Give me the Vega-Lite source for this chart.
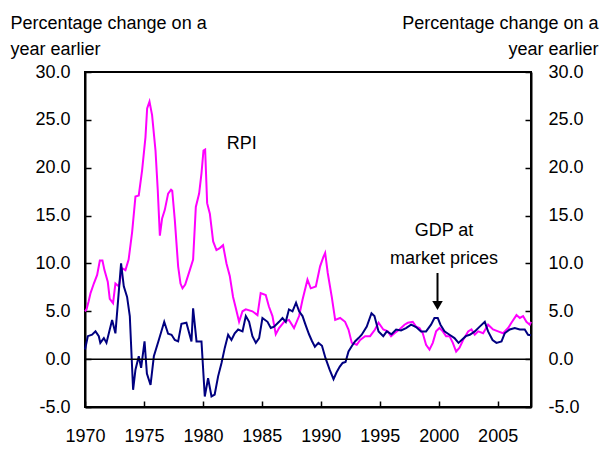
{
  "$schema": "https://vega.github.io/schema/vega-lite/v6.json",
  "width": 446,
  "height": 335,
  "autosize": {"type": "none"},
  "padding": {"left": 85, "top": 72, "right": 72, "bottom": 43},
  "background": "white",
  "config": {
    "font": "Liberation Sans",
    "view": {"stroke": "black", "strokeWidth": 2},
    "axis": {"grid": false, "domainColor": "black", "domainWidth": 2, "tickColor": "black", "tickWidth": 1.5, "labelColor": "black", "labelFontSize": 18, "titleFontSize": 18, "titleFontWeight": "normal", "titleColor": "black", "labelFont": "Liberation Sans", "titleFont": "Liberation Sans"}
  },
  "datasets": {
    "series": [
      {"series": "RPI", "year": 1970.0, "value": 5.0},
      {"series": "RPI", "year": 1970.13, "value": 5.2},
      {"series": "RPI", "year": 1970.3, "value": 6.0},
      {"series": "RPI", "year": 1970.47, "value": 6.9},
      {"series": "RPI", "year": 1970.75, "value": 7.9},
      {"series": "RPI", "year": 1971.03, "value": 8.8},
      {"series": "RPI", "year": 1971.26, "value": 10.3},
      {"series": "RPI", "year": 1971.48, "value": 10.3},
      {"series": "RPI", "year": 1971.65, "value": 9.3},
      {"series": "RPI", "year": 1971.93, "value": 8.1},
      {"series": "RPI", "year": 1972.1, "value": 6.3},
      {"series": "RPI", "year": 1972.38, "value": 5.85},
      {"series": "RPI", "year": 1972.58, "value": 7.9},
      {"series": "RPI", "year": 1972.87, "value": 7.6},
      {"series": "RPI", "year": 1973.15, "value": 9.5},
      {"series": "RPI", "year": 1973.43, "value": 9.3},
      {"series": "RPI", "year": 1973.7, "value": 10.4},
      {"series": "RPI", "year": 1974.0, "value": 13.3},
      {"series": "RPI", "year": 1974.28, "value": 17.0},
      {"series": "RPI", "year": 1974.56, "value": 17.1},
      {"series": "RPI", "year": 1974.84, "value": 19.7},
      {"series": "RPI", "year": 1975.13, "value": 23.2},
      {"series": "RPI", "year": 1975.27, "value": 26.2},
      {"series": "RPI", "year": 1975.47, "value": 26.9},
      {"series": "RPI", "year": 1975.69, "value": 25.5},
      {"series": "RPI", "year": 1975.98, "value": 21.8},
      {"series": "RPI", "year": 1976.17, "value": 17.7},
      {"series": "RPI", "year": 1976.35, "value": 12.9},
      {"series": "RPI", "year": 1976.54, "value": 14.7},
      {"series": "RPI", "year": 1976.77, "value": 15.6},
      {"series": "RPI", "year": 1977.05, "value": 17.3},
      {"series": "RPI", "year": 1977.3, "value": 17.7},
      {"series": "RPI", "year": 1977.4, "value": 17.6},
      {"series": "RPI", "year": 1977.62, "value": 14.5},
      {"series": "RPI", "year": 1977.9, "value": 9.7},
      {"series": "RPI", "year": 1978.1, "value": 7.9},
      {"series": "RPI", "year": 1978.27, "value": 7.4},
      {"series": "RPI", "year": 1978.5, "value": 7.8},
      {"series": "RPI", "year": 1978.89, "value": 9.3},
      {"series": "RPI", "year": 1979.17, "value": 10.4},
      {"series": "RPI", "year": 1979.4, "value": 15.9},
      {"series": "RPI", "year": 1979.68, "value": 17.3},
      {"series": "RPI", "year": 1979.88, "value": 19.4},
      {"series": "RPI", "year": 1980.05, "value": 21.8},
      {"series": "RPI", "year": 1980.19, "value": 21.9},
      {"series": "RPI", "year": 1980.36, "value": 16.3},
      {"series": "RPI", "year": 1980.59, "value": 15.2},
      {"series": "RPI", "year": 1980.87, "value": 12.3},
      {"series": "RPI", "year": 1981.15, "value": 11.4},
      {"series": "RPI", "year": 1981.43, "value": 11.6},
      {"series": "RPI", "year": 1981.71, "value": 11.9},
      {"series": "RPI", "year": 1982.0, "value": 10.0},
      {"series": "RPI", "year": 1982.28, "value": 8.7},
      {"series": "RPI", "year": 1982.56, "value": 6.5},
      {"series": "RPI", "year": 1982.8, "value": 5.3},
      {"series": "RPI", "year": 1983.07, "value": 3.9},
      {"series": "RPI", "year": 1983.36, "value": 5.0},
      {"series": "RPI", "year": 1983.64, "value": 5.2},
      {"series": "RPI", "year": 1984.2, "value": 5.0},
      {"series": "RPI", "year": 1984.63, "value": 4.6},
      {"series": "RPI", "year": 1984.9, "value": 6.9},
      {"series": "RPI", "year": 1985.33, "value": 6.7},
      {"series": "RPI", "year": 1985.6, "value": 5.5},
      {"series": "RPI", "year": 1985.9, "value": 4.5},
      {"series": "RPI", "year": 1986.18, "value": 2.6},
      {"series": "RPI", "year": 1986.46, "value": 3.25},
      {"series": "RPI", "year": 1986.89, "value": 3.9},
      {"series": "RPI", "year": 1987.3, "value": 4.1},
      {"series": "RPI", "year": 1987.73, "value": 3.25},
      {"series": "RPI", "year": 1988.16, "value": 4.5},
      {"series": "RPI", "year": 1988.45, "value": 6.2},
      {"series": "RPI", "year": 1988.87, "value": 8.3},
      {"series": "RPI", "year": 1989.15, "value": 7.4},
      {"series": "RPI", "year": 1989.58, "value": 7.6},
      {"series": "RPI", "year": 1989.94, "value": 9.7},
      {"series": "RPI", "year": 1990.23, "value": 10.7},
      {"series": "RPI", "year": 1990.37, "value": 11.1},
      {"series": "RPI", "year": 1990.59, "value": 9.0},
      {"series": "RPI", "year": 1990.93, "value": 6.5},
      {"series": "RPI", "year": 1991.22, "value": 4.1},
      {"series": "RPI", "year": 1991.64, "value": 4.3},
      {"series": "RPI", "year": 1992.06, "value": 3.9},
      {"series": "RPI", "year": 1992.35, "value": 3.1},
      {"series": "RPI", "year": 1992.63, "value": 1.7},
      {"series": "RPI", "year": 1993.05, "value": 1.5},
      {"series": "RPI", "year": 1993.34, "value": 2.0},
      {"series": "RPI", "year": 1993.76, "value": 2.4},
      {"series": "RPI", "year": 1994.18, "value": 2.4},
      {"series": "RPI", "year": 1994.6, "value": 3.1},
      {"series": "RPI", "year": 1994.9, "value": 3.8},
      {"series": "RPI", "year": 1995.3, "value": 3.1},
      {"series": "RPI", "year": 1995.68, "value": 2.9},
      {"series": "RPI", "year": 1995.96, "value": 2.4},
      {"series": "RPI", "year": 1996.25, "value": 2.7},
      {"series": "RPI", "year": 1996.67, "value": 3.1},
      {"series": "RPI", "year": 1997.1, "value": 3.6},
      {"series": "RPI", "year": 1997.38, "value": 3.8},
      {"series": "RPI", "year": 1997.8, "value": 3.9},
      {"series": "RPI", "year": 1998.08, "value": 3.4},
      {"series": "RPI", "year": 1998.37, "value": 3.25},
      {"series": "RPI", "year": 1998.65, "value": 2.7},
      {"series": "RPI", "year": 1998.93, "value": 1.5},
      {"series": "RPI", "year": 1999.22, "value": 1.0},
      {"series": "RPI", "year": 1999.5, "value": 1.7},
      {"series": "RPI", "year": 1999.78, "value": 2.9},
      {"series": "RPI", "year": 2000.07, "value": 3.25},
      {"series": "RPI", "year": 2000.35, "value": 2.9},
      {"series": "RPI", "year": 2000.63, "value": 2.4},
      {"series": "RPI", "year": 2000.92, "value": 2.4},
      {"series": "RPI", "year": 2001.2, "value": 1.7},
      {"series": "RPI", "year": 2001.48, "value": 0.8},
      {"series": "RPI", "year": 2001.77, "value": 1.2},
      {"series": "RPI", "year": 2002.07, "value": 2.0},
      {"series": "RPI", "year": 2002.5, "value": 2.9},
      {"series": "RPI", "year": 2002.78, "value": 3.1},
      {"series": "RPI", "year": 2003.06, "value": 2.55},
      {"series": "RPI", "year": 2003.35, "value": 2.9},
      {"series": "RPI", "year": 2003.77, "value": 2.7},
      {"series": "RPI", "year": 2004.19, "value": 3.6},
      {"series": "RPI", "year": 2004.61, "value": 3.1},
      {"series": "RPI", "year": 2005.04, "value": 2.9},
      {"series": "RPI", "year": 2005.46, "value": 2.7},
      {"series": "RPI", "year": 2005.89, "value": 3.25},
      {"series": "RPI", "year": 2006.17, "value": 3.8},
      {"series": "RPI", "year": 2006.6, "value": 4.6},
      {"series": "RPI", "year": 2006.88, "value": 4.3},
      {"series": "RPI", "year": 2007.16, "value": 4.5},
      {"series": "RPI", "year": 2007.44, "value": 3.9},
      {"series": "RPI", "year": 2007.72, "value": 3.6},
      {"series": "RPI", "year": 2007.83, "value": 3.9},
      {"series": "GDP", "year": 1970.0, "value": 1.0},
      {"series": "GDP", "year": 1970.24, "value": 2.4},
      {"series": "GDP", "year": 1970.6, "value": 2.55},
      {"series": "GDP", "year": 1970.89, "value": 2.9},
      {"series": "GDP", "year": 1971.17, "value": 2.4},
      {"series": "GDP", "year": 1971.3, "value": 1.7},
      {"series": "GDP", "year": 1971.6, "value": 2.2},
      {"series": "GDP", "year": 1971.82, "value": 1.7},
      {"series": "GDP", "year": 1972.3, "value": 4.1},
      {"series": "GDP", "year": 1972.58, "value": 2.7},
      {"series": "GDP", "year": 1973.06, "value": 10.0},
      {"series": "GDP", "year": 1973.29, "value": 7.6},
      {"series": "GDP", "year": 1973.57, "value": 6.5},
      {"series": "GDP", "year": 1973.8, "value": 4.5},
      {"series": "GDP", "year": 1974.08, "value": -3.2},
      {"series": "GDP", "year": 1974.28, "value": -1.1},
      {"series": "GDP", "year": 1974.56, "value": 0.3},
      {"series": "GDP", "year": 1974.76, "value": -0.9},
      {"series": "GDP", "year": 1975.05, "value": 1.85},
      {"series": "GDP", "year": 1975.25, "value": -1.5},
      {"series": "GDP", "year": 1975.56, "value": -2.7},
      {"series": "GDP", "year": 1975.84, "value": 0.3},
      {"series": "GDP", "year": 1976.26, "value": 2.0},
      {"series": "GDP", "year": 1976.72, "value": 3.9},
      {"series": "GDP", "year": 1977.05, "value": 2.65},
      {"series": "GDP", "year": 1977.34, "value": 2.55},
      {"series": "GDP", "year": 1977.62, "value": 2.0},
      {"series": "GDP", "year": 1977.9, "value": 1.85},
      {"series": "GDP", "year": 1978.18, "value": 3.7},
      {"series": "GDP", "year": 1978.6, "value": 3.8},
      {"series": "GDP", "year": 1979.03, "value": 1.85},
      {"series": "GDP", "year": 1979.17, "value": 5.3},
      {"series": "GDP", "year": 1979.46, "value": 1.85},
      {"series": "GDP", "year": 1979.88, "value": 1.85},
      {"series": "GDP", "year": 1980.16, "value": -3.9},
      {"series": "GDP", "year": 1980.44, "value": -2.0},
      {"series": "GDP", "year": 1980.73, "value": -3.9},
      {"series": "GDP", "year": 1981.0, "value": -3.7},
      {"series": "GDP", "year": 1981.29, "value": -1.8},
      {"series": "GDP", "year": 1981.58, "value": -0.4},
      {"series": "GDP", "year": 1981.86, "value": 1.2},
      {"series": "GDP", "year": 1982.14, "value": 2.55},
      {"series": "GDP", "year": 1982.42, "value": 2.0},
      {"series": "GDP", "year": 1982.7, "value": 2.7},
      {"series": "GDP", "year": 1982.99, "value": 3.1},
      {"series": "GDP", "year": 1983.36, "value": 2.9},
      {"series": "GDP", "year": 1983.64, "value": 4.5},
      {"series": "GDP", "year": 1983.92, "value": 3.9},
      {"series": "GDP", "year": 1984.2, "value": 2.4},
      {"series": "GDP", "year": 1984.49, "value": 1.7},
      {"series": "GDP", "year": 1984.77, "value": 2.2},
      {"series": "GDP", "year": 1985.05, "value": 4.3},
      {"series": "GDP", "year": 1985.48, "value": 3.9},
      {"series": "GDP", "year": 1985.76, "value": 3.25},
      {"series": "GDP", "year": 1986.04, "value": 3.4},
      {"series": "GDP", "year": 1986.46, "value": 3.9},
      {"series": "GDP", "year": 1986.75, "value": 4.3},
      {"series": "GDP", "year": 1987.03, "value": 3.9},
      {"series": "GDP", "year": 1987.3, "value": 5.2},
      {"series": "GDP", "year": 1987.6, "value": 5.0},
      {"series": "GDP", "year": 1987.9, "value": 5.9},
      {"series": "GDP", "year": 1988.16, "value": 5.0},
      {"series": "GDP", "year": 1988.45, "value": 4.5},
      {"series": "GDP", "year": 1988.73, "value": 3.5},
      {"series": "GDP", "year": 1989.0, "value": 2.6},
      {"series": "GDP", "year": 1989.25, "value": 1.9},
      {"series": "GDP", "year": 1989.5, "value": 1.3},
      {"series": "GDP", "year": 1989.8, "value": 1.7},
      {"series": "GDP", "year": 1990.1, "value": 1.4},
      {"series": "GDP", "year": 1990.4, "value": 0.1},
      {"series": "GDP", "year": 1990.75, "value": -1.1},
      {"series": "GDP", "year": 1991.08, "value": -2.1},
      {"series": "GDP", "year": 1991.33, "value": -1.4},
      {"series": "GDP", "year": 1991.6, "value": -0.8},
      {"series": "GDP", "year": 1991.85, "value": -0.4},
      {"series": "GDP", "year": 1992.1, "value": -0.3},
      {"series": "GDP", "year": 1992.35, "value": 0.8},
      {"series": "GDP", "year": 1992.65, "value": 1.4},
      {"series": "GDP", "year": 1992.9, "value": 1.85},
      {"series": "GDP", "year": 1993.2, "value": 2.2},
      {"series": "GDP", "year": 1993.47, "value": 2.55},
      {"series": "GDP", "year": 1993.9, "value": 3.4},
      {"series": "GDP", "year": 1994.3, "value": 4.8},
      {"series": "GDP", "year": 1994.55, "value": 4.5},
      {"series": "GDP", "year": 1994.9, "value": 2.9},
      {"series": "GDP", "year": 1995.3, "value": 2.4},
      {"series": "GDP", "year": 1995.6, "value": 2.9},
      {"series": "GDP", "year": 1996.0, "value": 2.6},
      {"series": "GDP", "year": 1996.39, "value": 3.1},
      {"series": "GDP", "year": 1996.81, "value": 3.0},
      {"series": "GDP", "year": 1997.23, "value": 3.25},
      {"series": "GDP", "year": 1997.66, "value": 3.6},
      {"series": "GDP", "year": 1998.08, "value": 3.35},
      {"series": "GDP", "year": 1998.5, "value": 2.9},
      {"series": "GDP", "year": 1998.93, "value": 2.9},
      {"series": "GDP", "year": 1999.35, "value": 3.6},
      {"series": "GDP", "year": 1999.64, "value": 4.3},
      {"series": "GDP", "year": 1999.92, "value": 4.3},
      {"series": "GDP", "year": 2000.15, "value": 3.6},
      {"series": "GDP", "year": 2000.49, "value": 2.9},
      {"series": "GDP", "year": 2000.92, "value": 2.55},
      {"series": "GDP", "year": 2001.34, "value": 2.2},
      {"series": "GDP", "year": 2001.68, "value": 1.7},
      {"series": "GDP", "year": 2002.04, "value": 2.1},
      {"series": "GDP", "year": 2002.3, "value": 2.4},
      {"series": "GDP", "year": 2002.64, "value": 2.55},
      {"series": "GDP", "year": 2003.06, "value": 2.9},
      {"series": "GDP", "year": 2003.48, "value": 3.4},
      {"series": "GDP", "year": 2003.91, "value": 3.9},
      {"series": "GDP", "year": 2004.19, "value": 2.9},
      {"series": "GDP", "year": 2004.57, "value": 2.0},
      {"series": "GDP", "year": 2004.9, "value": 1.7},
      {"series": "GDP", "year": 2005.33, "value": 1.85},
      {"series": "GDP", "year": 2005.6, "value": 2.7},
      {"series": "GDP", "year": 2006.03, "value": 3.1},
      {"series": "GDP", "year": 2006.45, "value": 3.25},
      {"series": "GDP", "year": 2006.88, "value": 3.1},
      {"series": "GDP", "year": 2007.3, "value": 3.1},
      {"series": "GDP", "year": 2007.58, "value": 2.55},
      {"series": "GDP", "year": 2007.83, "value": 2.5}
    ],
    "labels": [
      {"label": "RPI", "year": 1983.3, "value": 22.0},
      {"label": "GDP at", "year": 2000.45, "value": 12.9},
      {"label": "market prices", "year": 2000.45, "value": 9.95}
    ],
    "arrow": [
      {"year": 1999.9, "top": 9.0, "tip": 5.6}
    ],
    "zero": [
      {"value": 0}
    ]
  },
  "resolve": {"scale": {"y": "independent"}},
  "layer": [
    {
      "data": {"name": "series"},
      "mark": {"type": "line", "strokeWidth": 2, "interpolate": "linear"},
      "encoding": {
        "x": {
          "field": "year", "type": "quantitative",
          "scale": {"domain": [1970, 2007.83], "nice": false, "zero": false},
          "axis": {"orient": "bottom", "title": null, "values": [1970, 1975, 1980, 1985, 1990, 1995, 2000, 2005], "format": "d", "tickSize": -6, "labelPadding": 26, "labelFlush": false, "labelBaseline": "top"}
        },
        "y": {
          "field": "value", "type": "quantitative",
          "scale": {"domain": [-5, 30], "nice": false, "zero": false},
          "axis": {"orient": "left", "values": [-5, 0, 5, 10, 15, 20, 25, 30], "labelExpr": "datum.value < 0 ? '-' + format(-datum.value, '.1f') : format(datum.value, '.1f')", "tickSize": -6, "labelPadding": 21, "title": ["Percentage change on a", "year earlier"], "titleAngle": 0, "titleAlign": "left", "titleBaseline": "alphabetic", "titleX": -75, "titleY": -44, "titleLineHeight": 26}
        },
        "color": {"field": "series", "type": "nominal", "scale": {"domain": ["RPI", "GDP"], "range": ["#FF00FF", "#000080"]}, "legend": null},
        "detail": {"field": "series"}
      }
    },
    {
      "data": {"name": "zero"},
      "mark": {"type": "rule", "color": "black", "strokeWidth": 1.5},
      "encoding": {
        "y": {
          "field": "value", "type": "quantitative",
          "scale": {"domain": [-5, 30], "nice": false, "zero": false},
          "axis": {"orient": "right", "values": [-5, 0, 5, 10, 15, 20, 25, 30], "labelExpr": "datum.value < 0 ? '-' + format(-datum.value, '.1f') : format(datum.value, '.1f')", "tickSize": -6, "labelPadding": 23, "title": ["Percentage change on a", "year earlier"], "titleAngle": 0, "titleAlign": "right", "titleBaseline": "alphabetic", "titleX": 67, "titleY": -44, "titleLineHeight": 26}
        }
      }
    },
    {
      "data": {"name": "labels"},
      "mark": {"type": "text", "fontSize": 18, "color": "black", "align": "center", "baseline": "alphabetic", "font": "Liberation Sans"},
      "encoding": {
        "x": {"field": "year", "type": "quantitative"},
        "y": {"field": "value", "type": "quantitative", "scale": {"domain": [-5, 30], "nice": false, "zero": false}, "axis": null},
        "text": {"field": "label"}
      }
    },
    {
      "data": {"name": "arrow"},
      "mark": {"type": "rule", "color": "black", "strokeWidth": 2},
      "encoding": {
        "x": {"field": "year", "type": "quantitative"},
        "y": {"field": "top", "type": "quantitative", "scale": {"domain": [-5, 30], "nice": false, "zero": false}, "axis": null},
        "y2": {"field": "tip"}
      }
    },
    {
      "data": {"name": "arrow"},
      "mark": {"type": "point", "shape": "triangle-down", "filled": true, "color": "black", "size": 110, "opacity": 1},
      "encoding": {
        "x": {"field": "year", "type": "quantitative"},
        "y": {"field": "tip", "type": "quantitative", "scale": {"domain": [-5, 30], "nice": false, "zero": false}, "axis": null}
      }
    }
  ]
}
